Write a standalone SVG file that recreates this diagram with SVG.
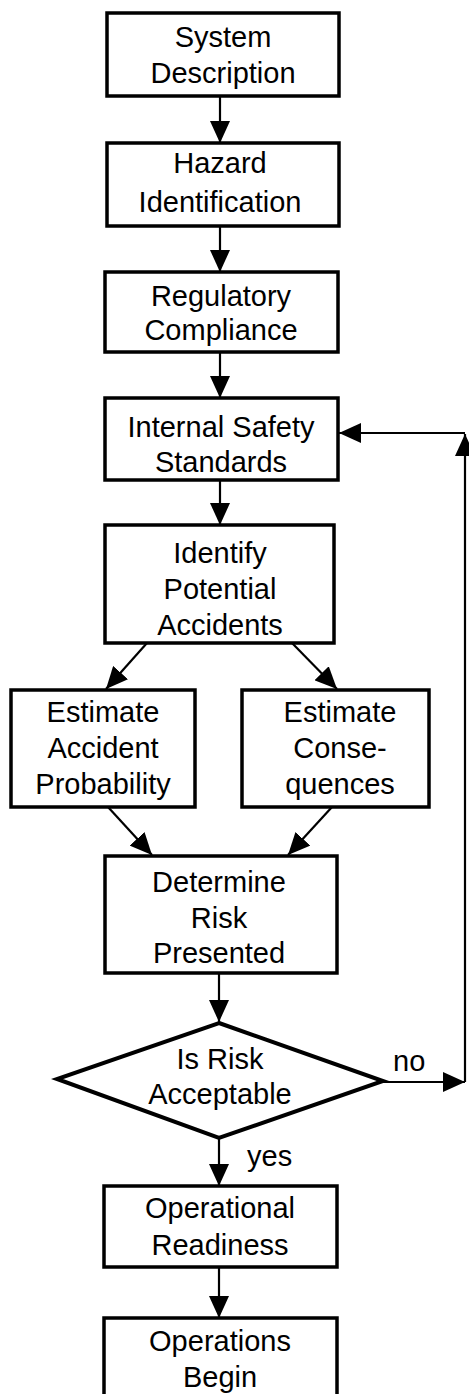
<svg xmlns="http://www.w3.org/2000/svg" width="469" height="1394" viewBox="0 0 469 1394">
<style>
.box{fill:#fff;stroke:#000;stroke-width:3.5}
.t{font-family:"Liberation Sans",Arial,sans-serif;font-size:29px;fill:#000;text-anchor:middle}
.lbl{font-family:"Liberation Sans",Arial,sans-serif;font-size:29px;fill:#000}
.c{fill:none;stroke:#000;stroke-width:2.2}
</style>
<defs>
<marker id="ah" markerUnits="userSpaceOnUse" markerWidth="22" markerHeight="20" viewBox="0 0 22 20" refX="22" refY="10" orient="auto">
<path d="M0,0 L22,10 L0,20 z" fill="#000"/>
</marker>
</defs>
<rect width="469" height="1394" fill="#fff"/>
<g id="connectors">
<line class="c" x1="220" y1="96" x2="220" y2="143" marker-end="url(#ah)"/>
<line class="c" x1="220" y1="226" x2="220" y2="272" marker-end="url(#ah)"/>
<line class="c" x1="220" y1="352" x2="220" y2="398" marker-end="url(#ah)"/>
<line class="c" x1="220" y1="480" x2="220" y2="525" marker-end="url(#ah)"/>
<line class="c" x1="147" y1="643" x2="106" y2="689" marker-end="url(#ah)"/>
<line class="c" x1="292" y1="643" x2="337" y2="689" marker-end="url(#ah)"/>
<line class="c" x1="108" y1="807" x2="152" y2="855" marker-end="url(#ah)"/>
<line class="c" x1="332" y1="807" x2="288" y2="855" marker-end="url(#ah)"/>
<line class="c" x1="219" y1="973" x2="219" y2="1022" marker-end="url(#ah)"/>
<line class="c" x1="219" y1="1138" x2="219" y2="1186" marker-end="url(#ah)"/>
<line class="c" x1="219" y1="1267" x2="219" y2="1318" marker-end="url(#ah)"/>
<line class="c" x1="383" y1="1082" x2="465" y2="1082" marker-end="url(#ah)"/>
<line class="c" x1="465" y1="1082" x2="465" y2="434" marker-end="url(#ah)"/>
<line class="c" x1="465" y1="433" x2="339" y2="433" marker-end="url(#ah)"/>
<text class="lbl" x="393" y="1071">no</text>
<text class="lbl" x="247" y="1166">yes</text>
</g>
<g id="system-description">
<rect class="box" x="107" y="13" width="232" height="83"/>
<text class="t" x="223" y="47">System</text>
<text class="t" x="223" y="83">Description</text>
</g>
<g id="hazard-identification">
<rect class="box" x="107" y="143" width="232" height="83"/>
<text class="t" x="220" y="173">Hazard</text>
<text class="t" x="220" y="212">Identification</text>
</g>
<g id="regulatory-compliance">
<rect class="box" x="105" y="272" width="233" height="80"/>
<text class="t" x="221" y="306">Regulatory</text>
<text class="t" x="221" y="340">Compliance</text>
</g>
<g id="internal-safety-standards">
<rect class="box" x="105" y="398" width="233" height="82"/>
<text class="t" x="221" y="437">Internal Safety</text>
<text class="t" x="221" y="472">Standards</text>
</g>
<g id="identify-potential-accidents">
<rect class="box" x="105" y="525" width="229" height="118"/>
<text class="t" x="220" y="563">Identify</text>
<text class="t" x="220" y="599">Potential</text>
<text class="t" x="220" y="635">Accidents</text>
</g>
<g id="estimate-accident-probability">
<rect class="box" x="11" y="690" width="184" height="117"/>
<text class="t" x="103" y="722">Estimate</text>
<text class="t" x="103" y="758">Accident</text>
<text class="t" x="103" y="794">Probability</text>
</g>
<g id="estimate-consequences">
<rect class="box" x="242" y="690" width="187" height="117"/>
<text class="t" x="340" y="722">Estimate</text>
<text class="t" x="340" y="758">Conse-</text>
<text class="t" x="340" y="794">quences</text>
</g>
<g id="determine-risk-presented">
<rect class="box" x="105" y="856" width="232" height="117"/>
<text class="t" x="219" y="892">Determine</text>
<text class="t" x="219" y="928">Risk</text>
<text class="t" x="219" y="963">Presented</text>
</g>
<g id="is-risk-acceptable">
<polygon points="219,1023 383,1081 219,1138 57,1079" fill="#fff" stroke="#000" stroke-width="4" stroke-linejoin="miter"/>
<text class="t" x="220" y="1069">Is Risk</text>
<text class="t" x="220" y="1104">Acceptable</text>
</g>
<g id="operational-readiness">
<rect class="box" x="104" y="1186" width="233" height="81"/>
<text class="t" x="220" y="1218">Operational</text>
<text class="t" x="220" y="1255">Readiness</text>
</g>
<g id="operations-begin">
<rect class="box" x="104" y="1318" width="233" height="90"/>
<text class="t" x="220" y="1351">Operations</text>
<text class="t" x="220" y="1387">Begin</text>
</g>
</svg>
